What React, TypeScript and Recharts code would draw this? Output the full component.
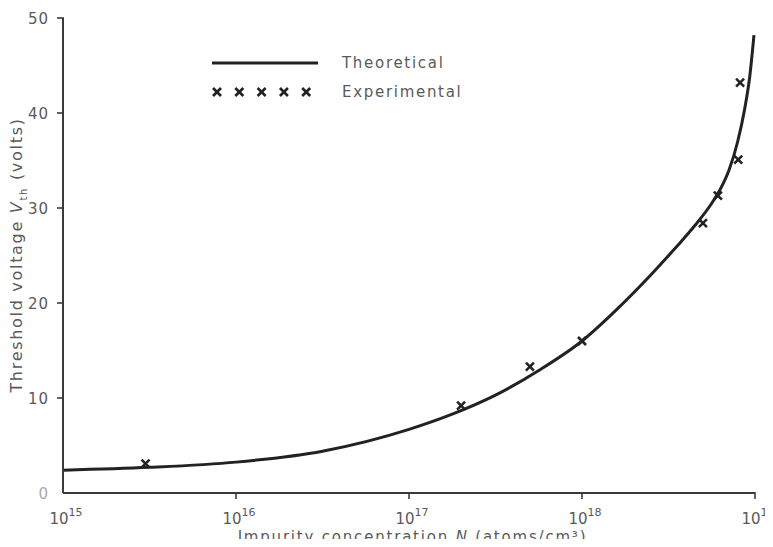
import { ComposedChart, Line, Scatter, XAxis, YAxis } from "recharts";

// theoretical curve, x = log10(N)
const theoryLogN = [15, 15.5, 16, 16.5, 17, 17.25, 17.5, 17.75, 18, 18.2, 18.4, 18.55, 18.65, 18.75, 18.8, 18.85, 18.9, 18.94, 18.97, 18.994];
const theoryVolts = [2.4, 2.7, 3.25, 4.4, 6.7, 8.3, 10.3, 12.9, 16.0, 19.3, 23.0, 26.0, 28.1, 30.5, 32.0, 34.0, 37.0, 40.4, 43.9, 48.2];

// measured points
const expN = [3e15, 2e17, 5e17, 1e18, 5e18, 6.1e18, 8e18, 8.2e18];
const expVolts = [3.1, 9.2, 13.3, 16.0, 28.4, 31.3, 35.1, 43.2];

const xTicks = [15, 16, 17, 18, 19];
const yTicks = [0, 10, 20, 30, 40, 50];

const theoryData = theoryLogN.map((x, i) => ({ logN: x, v: theoryVolts[i] }));
const expData = expN.map((n, i) => ({ logN: Math.log10(n), v: expVolts[i] }));

const font = "'DejaVu Sans', sans-serif";
const grey = "#5a5a5a";
const ink = "#222";
const axisCol = "#3a3a3a";

const Cross = (props: any) => {
  const { cx, cy } = props;
  const s = 4;
  return (
    <g stroke={ink} strokeWidth={2.6}>
      <line x1={cx - s} y1={cy - s} x2={cx + s} y2={cy + s} />
      <line x1={cx - s} y1={cy + s} x2={cx + s} y2={cy - s} />
    </g>
  );
};

const XTick = (props: any) => {
  const { x, y, payload } = props;
  const axisY = y - 8;
  return (
    <g>
      {payload.value !== 15 && (
        <line x1={x} y1={axisY} x2={x} y2={axisY - 7} stroke={axisCol} strokeWidth={1.6} />
      )}
      <text x={x + 3} y={y + 17} textAnchor="middle" fill={grey} fontFamily={font} fontSize={15}>
        10
        <tspan dy={-8} fontSize={11}>
          {payload.value}
        </tspan>
      </text>
    </g>
  );
};

const YTick = (props: any) => {
  const { x, y, payload } = props;
  const axisX = x + 8;
  return (
    <g>
      {payload.value !== 0 && (
        <line x1={axisX} y1={y} x2={axisX + 7} y2={y} stroke={axisCol} strokeWidth={1.6} />
      )}
      <text
        x={x}
        y={y + 6}
        textAnchor="end"
        fill={payload.value === 0 ? "#aaa" : grey}
        fontFamily={font}
        fontSize={15}
        letterSpacing={1}
      >
        {payload.value}
      </text>
    </g>
  );
};

const LegendBox = () => (
  <svg width={320} height={70} style={{ position: "absolute", left: 210, top: 47 }}>
    <line x1={2} y1={16} x2={108} y2={16} stroke={ink} strokeWidth={3} />
    <text x={132} y={21} fill={grey} fontFamily={font} fontSize={15} letterSpacing={1.7}>
      Theoretical
    </text>
    {[0, 1, 2, 3, 4].map((i) => (
      <Cross key={i} cx={7 + i * 22.3} cy={45} />
    ))}
    <text x={132} y={50} fill={grey} fontFamily={font} fontSize={15} letterSpacing={1.7}>
      Experimental
    </text>
  </svg>
);

const App = () => {
  return (
    <div
      style={{
        margin: -8,
        width: 773,
        height: 547,
        background: "#fff",
        position: "relative",
        overflow: "hidden",
      }}
    >
      <ComposedChart
        width={773}
        height={547}
        data={theoryData}
        margin={{ top: 18, right: 18, left: 0, bottom: 0 }}
      >
        <XAxis
          type="number"
          dataKey="logN"
          domain={[15, 19]}
          ticks={xTicks}
          height={54}
          stroke={axisCol}
          strokeWidth={2}
          tickLine={false}
          tickMargin={8}
          tick={<XTick />}
        />
        <YAxis
          type="number"
          dataKey="v"
          domain={[0, 50]}
          ticks={yTicks}
          width={63}
          stroke={axisCol}
          strokeWidth={2}
          tickLine={false}
          tickMargin={8}
          tick={<YTick />}
        />
        <Line
          type="monotone"
          dataKey="v"
          stroke={ink}
          strokeWidth={3}
          dot={false}
          activeDot={false}
          isAnimationActive={false}
        />
        <Scatter data={expData} dataKey="v" shape={<Cross />} isAnimationActive={false} />
      </ComposedChart>
      <LegendBox />
      <div
        style={{
          position: "absolute",
          left: 0,
          width: 773,
          top: 528,
          lineHeight: "18px",
          textAlign: "center",
          paddingLeft: 52,
          boxSizing: "border-box",
          fontFamily: font,
          fontSize: 15,
          color: grey,
          letterSpacing: 1.8,
          whiteSpace: "nowrap",
        }}
      >
        Impurity concentration <i>N</i> (atoms/cm³)
      </div>
      <div
        style={{
          position: "absolute",
          left: 18,
          top: 255,
          transform: "translate(-50%, -50%) rotate(-90deg)",
          whiteSpace: "nowrap",
          fontFamily: font,
          fontSize: 16,
          color: grey,
          letterSpacing: 1.7,
        }}
      >
        Threshold voltage <i>V</i>
        <sub style={{ fontSize: 10 }}>th</sub> (volts)
      </div>
    </div>
  );
};

export default App;
